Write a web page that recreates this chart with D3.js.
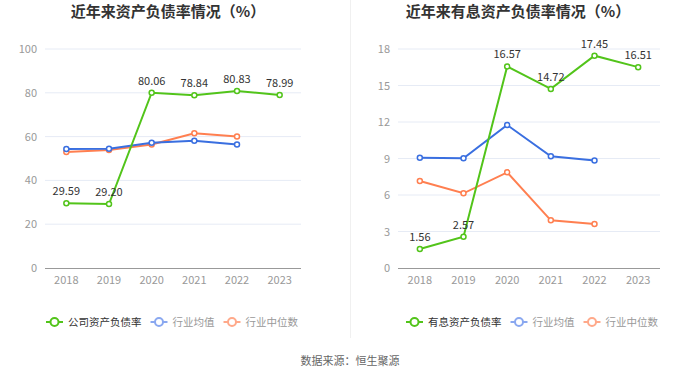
<!DOCTYPE html>
<html><head><meta charset="utf-8">
<script src="https://cdn.jsdelivr.net/npm/d3@7"></script>
<style>body{margin:0;background:#fff;font-family:"Noto Sans CJK SC","Noto Sans",sans-serif;}</style>
</head><body><svg id="c" width="700" height="378"></svg>
<script>
const years = ["2018","2019","2020","2021","2022","2023"];
const leftTitle = "近年来资产负债率情况（%）";
const rightTitle = "近年来有息资产负债率情况（%）";
const companyDebt = [29.59, 29.20, 80.06, 78.84, 80.83, 78.99];
const industryAvgDebt = [54.3, 54.5, 57.2, 58.1, 56.4];
const industryMedDebt = [53.0, 53.9, 56.4, 61.5, 60.0];
const companyIBDebt = [1.56, 2.57, 16.57, 14.72, 17.45, 16.51];
const industryAvgIB = [9.06, 9.02, 11.75, 9.18, 8.84];
const industryMedIB = [7.15, 6.14, 7.86, 3.92, 3.62];
const leftTicks = [0, 20, 40, 60, 80, 100];
const rightTicks = [0, 3, 6, 9, 12, 15, 18];
const leftLegend = ["公司资产负债率", "行业均值", "行业中位数"];
const rightLegend = ["有息资产负债率", "行业均值", "行业中位数"];
const source = "数据来源：恒生聚源";

const GREEN = "#52c41a", BLUE = "#3a6fe0", ORANGE = "#ff7f50";
const svg = d3.select("#c");

function chart(cfg) {
  const g = svg.append("g");
  const x = d3.scaleBand().domain(years).range([cfg.x0, cfg.x1]);
  const y = d3.scaleLinear().domain([0, cfg.max]).range([268, 49]);
  g.append("text").attr("x", cfg.tx).attr("y", 17).attr("text-anchor", "middle")
    .attr("font-size", 15).attr("font-weight", "bold").attr("fill", "#333").text(cfg.title);
  g.selectAll(".grid").data(cfg.ticks.filter(d => d > 0)).enter().append("line")
    .attr("x1", cfg.x0).attr("x2", cfg.x1).attr("y1", d => y(d)).attr("y2", d => y(d))
    .attr("stroke", "#e6ebf5").attr("stroke-width", 1);
  g.selectAll(".yl").data(cfg.ticks).enter().append("text")
    .attr("x", cfg.x0 - 8).attr("y", d => y(d) + 4).attr("text-anchor", "end")
    .attr("font-size", 11).attr("fill", "#999").text(d => d);
  g.append("line").attr("x1", cfg.x0).attr("x2", cfg.x1).attr("y1", 268.5).attr("y2", 268.5)
    .attr("stroke", "#999");
  g.selectAll(".xl").data(years).enter().append("text")
    .attr("x", d => x(d) + x.bandwidth() / 2).attr("y", 284).attr("text-anchor", "middle")
    .attr("font-size", 11).attr("fill", "#999").text(d => d);
  const cx = (d, i) => x(years[i]) + x.bandwidth() / 2;
  const line = d3.line().x((d, i) => cx(d, i)).y(d => y(d));
  const series = [[cfg.med, ORANGE], [cfg.avg, BLUE], [cfg.comp, GREEN]];
  series.forEach(([data, col]) => {
    g.append("path").attr("d", line(data)).attr("fill", "none").attr("stroke", col).attr("stroke-width", 2);
    g.selectAll(null).data(data).enter().append("circle")
      .attr("cx", cx).attr("cy", d => y(d)).attr("r", 2.5)
      .attr("fill", "#fff").attr("stroke", col).attr("stroke-width", 1.5);
  });
  g.selectAll(null).data(cfg.comp).enter().append("text")
    .attr("x", cx).attr("y", d => y(d) - 8).attr("text-anchor", "middle")
    .attr("font-size", 11).attr("fill", "#333").text(d => d.toFixed(2));
  const lc = [GREEN, "#8aa8f0", "#ffa98a"];
  const tc = ["#333", "#999", "#999"];
  let lx = cfg.lx;
  cfg.legend.forEach((t, i) => {
    const lg = g.append("g");
    lg.append("line").attr("x1", lx).attr("x2", lx + 17).attr("y1", 322).attr("y2", 322)
      .attr("stroke", lc[i]).attr("stroke-width", 2);
    lg.append("circle").attr("cx", lx + 8.5).attr("cy", 322).attr("r", 4)
      .attr("fill", "#fff").attr("stroke", lc[i]).attr("stroke-width", 2);
    const tx = lg.append("text").attr("x", lx + 22).attr("y", 326).attr("font-size", 10.5)
      .attr("fill", tc[i]).text(t);
    lx += 22 + tx.node().getComputedTextLength() + 9;
  });
}

chart({x0: 45, x1: 301, max: 100, ticks: leftTicks, tx: 168, title: leftTitle,
  comp: companyDebt, avg: industryAvgDebt, med: industryMedDebt, legend: leftLegend, lx: 46});
chart({x0: 398, x1: 660, max: 18, ticks: rightTicks, tx: 518, title: rightTitle,
  comp: companyIBDebt, avg: industryAvgIB, med: industryMedIB, legend: rightLegend, lx: 406});

svg.append("line").attr("x1", 350.5).attr("x2", 350.5).attr("y1", 0).attr("y2", 338)
  .attr("stroke", "#f0f0f0");
svg.append("text").attr("x", 350).attr("y", 365).attr("text-anchor", "middle")
  .attr("font-size", 11).attr("fill", "#666").text(source);
</script></body></html>
